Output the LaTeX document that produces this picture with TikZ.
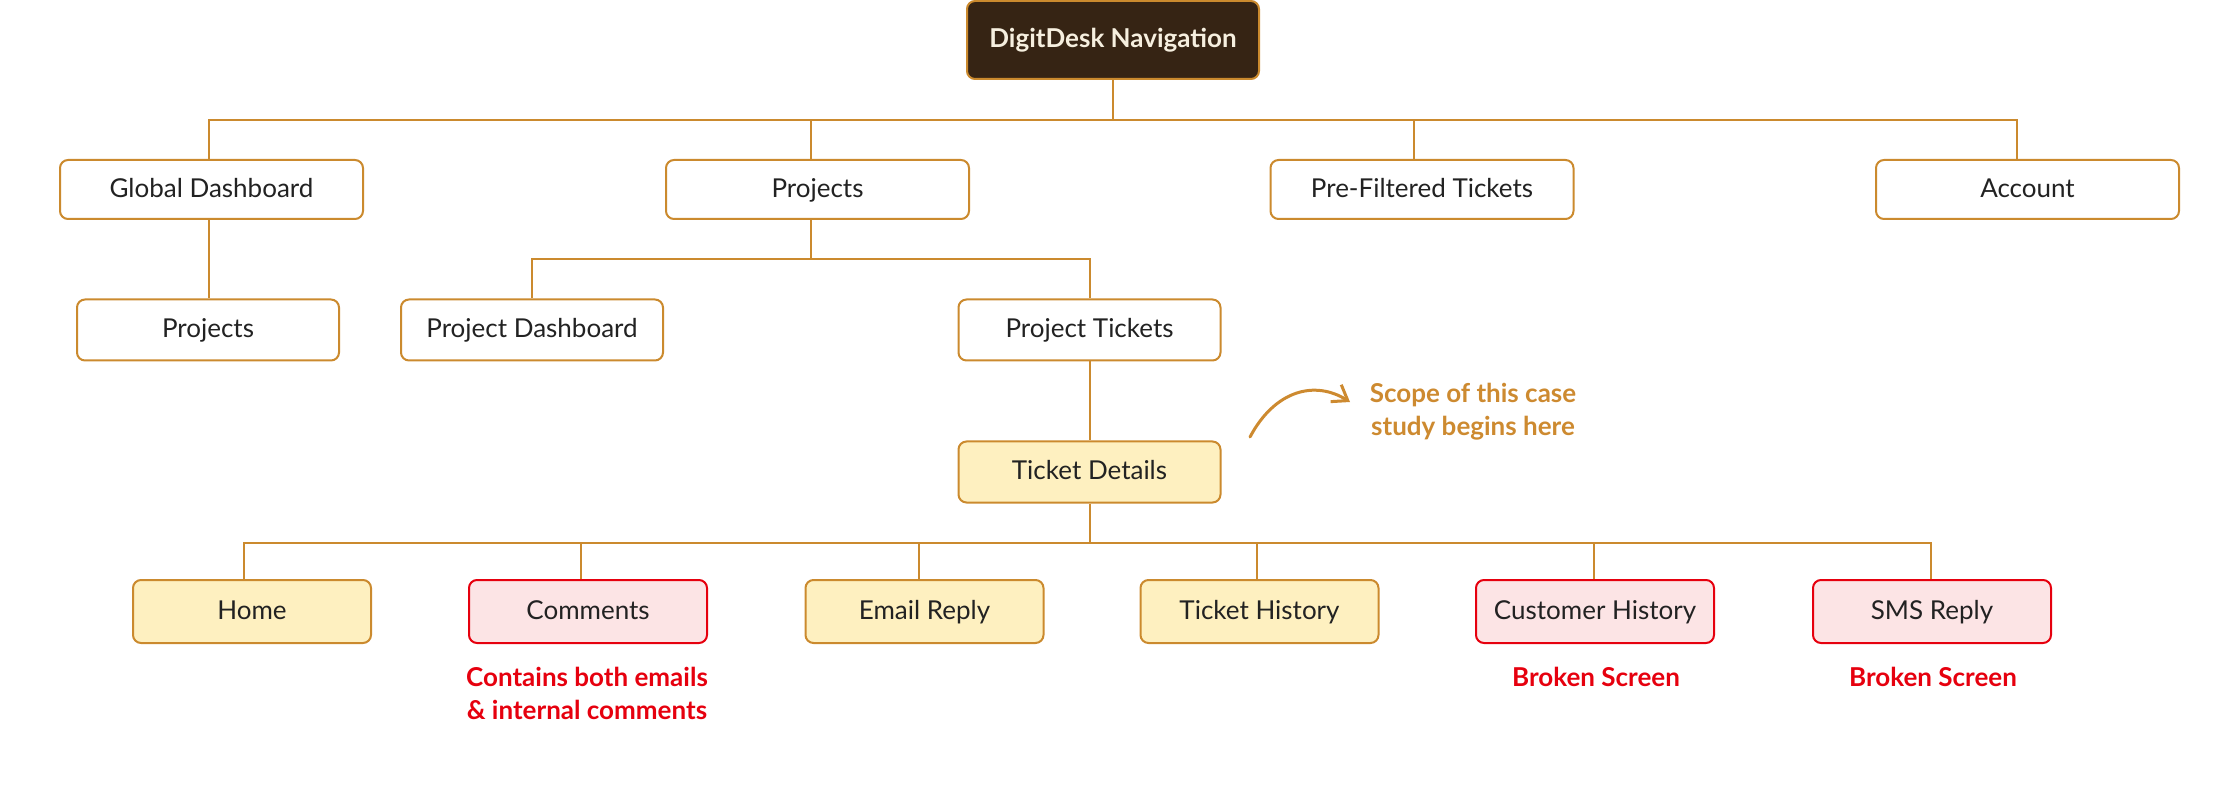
\documentclass[tikz,border=0pt]{standalone}
\usepackage{fontspec}
\setmainfont{Lato}
\usetikzlibrary{arrows.meta,calc}
\definecolor{brd}{HTML}{CB8A2E}
\definecolor{topfill}{HTML}{362414}
\definecolor{toptext}{HTML}{F6EFDF}
\definecolor{yel}{HTML}{FEF0C0}
\definecolor{pinkf}{HTML}{FCE4E5}
\definecolor{redb}{HTML}{E6000E}
\definecolor{txt}{HTML}{222222}
\definecolor{scopec}{HTML}{CD8A30}
\tikzset{
  box/.style={draw=brd, line width=1pt, rounded corners=4pt, fill=white, text=txt,
    font=\fontsize{13}{15}\selectfont, inner sep=0pt, text height=0.8em, text depth=0pt},
  lvlone/.style={box, minimum width=151.5pt, minimum height=29.5pt},
  lvltwo/.style={box, minimum width=131pt, minimum height=30.5pt},
  lvlthree/.style={box, minimum width=119pt, minimum height=31.5pt},
  yelbox/.style={fill=yel},
  redbox/.style={draw=redb, fill=pinkf},
  topbox/.style={box, fill=topfill, text=toptext, font=\fontsize{13}{15}\selectfont\bfseries,
    minimum width=146pt, minimum height=39pt},
  conn/.style={draw=brd, line width=1pt},
  note/.style={text=redb, font=\fontsize{13}{16.5}\selectfont\bfseries, align=center},
  scope/.style={text=scopec, font=\fontsize{13}{16.5}\selectfont\bfseries, align=center},
}
\begin{document}
\begin{tikzpicture}[x=0.5pt,y=-0.5pt]
\useasboundingbox (0,0) rectangle (2240,786);
% top
\node[topbox] (top) at (1113,40) {DigitDesk Navigation};
% level 1
\node[lvlone] (gd) at (211.5,189.5) {Global Dashboard};
\node[lvlone] (pr) at (817.5,189.5) {Projects};
\node[lvlone] (pf) at (1422,189.5) {Pre-Filtered Tickets};
\node[lvlone] (ac) at (2027.5,189.5) {Account};
% level 2
\node[lvltwo] (gp) at (208,330) {Projects};
\node[lvltwo] (pd) at (532,330) {Project Dashboard};
\node[lvltwo] (pt) at (1089.5,330) {Project Tickets};
% ticket details
\node[lvltwo, yelbox] (td) at (1089.5,472) {Ticket Details};
% level 3
\node[lvlthree, yelbox] (ho) at (252,611.5) {Home};
\node[lvlthree, redbox] (co) at (588,611.5) {Comments};
\node[lvlthree, yelbox] (er) at (924.5,611.5) {Email Reply};
\node[lvlthree, yelbox] (th) at (1259.5,611.5) {Ticket History};
\node[lvlthree, redbox] (ch) at (1595,611.5) {Customer History};
\node[lvlthree, redbox] (sr) at (1932,611.5) {SMS Reply};
% notes
\node[note] (n1) at (587,693) {Contains both emails\\\& internal comments};
\node[note] (n2) at (1596,677) {Broken Screen};
\node[note] (n3) at (1933,677) {Broken Screen};
\node[scope] (sc) at (1473,412) {Scope of this case\\study begins here};
% junctions
\coordinate (j1) at (1113,120);
\coordinate (j2) at (811,259);
\coordinate (j3) at (1089.5,543);
% connectors
\draw[conn] (top.south) -- (j1);
\draw[conn] ($(gd.north)+(-3,0)$) |- (j1);
\draw[conn] ($(pr.north)+(-6.5,0)$) |- (j1);
\draw[conn] ($(pf.north)+(-8,0)$) |- (j1);
\draw[conn] ($(ac.north)+(-10.5,0)$) |- (j1);
\draw[conn] ($(gd.south)+(-3,0)$) -- ($(gp.north)+(0.5,0)$);
\draw[conn] ($(pr.south)+(-6.5,0)$) -- (j2);
\draw[conn] (pd.north) |- (j2);
\draw[conn] (pt.north) |- (j2);
\draw[conn] (pt.south) -- (td.north);
\draw[conn] (td.south) -- (j3);
\draw[conn] ($(ho.north)+(-8,0)$) |- (j3);
\draw[conn] ($(co.north)+(-7,0)$) |- (j3);
\draw[conn] ($(er.north)+(-5.5,0)$) |- (j3);
\draw[conn] ($(th.north)+(-2.5,0)$) |- (j3);
\draw[conn] ($(ch.north)+(-1,0)$) |- (j3);
\draw[conn] ($(sr.north)+(-1,0)$) |- (j3);
% scope arrow
\coordinate (as) at (1250,437);
\coordinate (ae) at (1350,402);
\draw[draw=scopec, line width=1.5pt, line cap=round,
  -{Straight Barb[length=7pt,width=10pt,line width=1.5pt]}]
  (as) .. controls (1275,390) and (1315,380) .. (ae);
\end{tikzpicture}
\end{document}
